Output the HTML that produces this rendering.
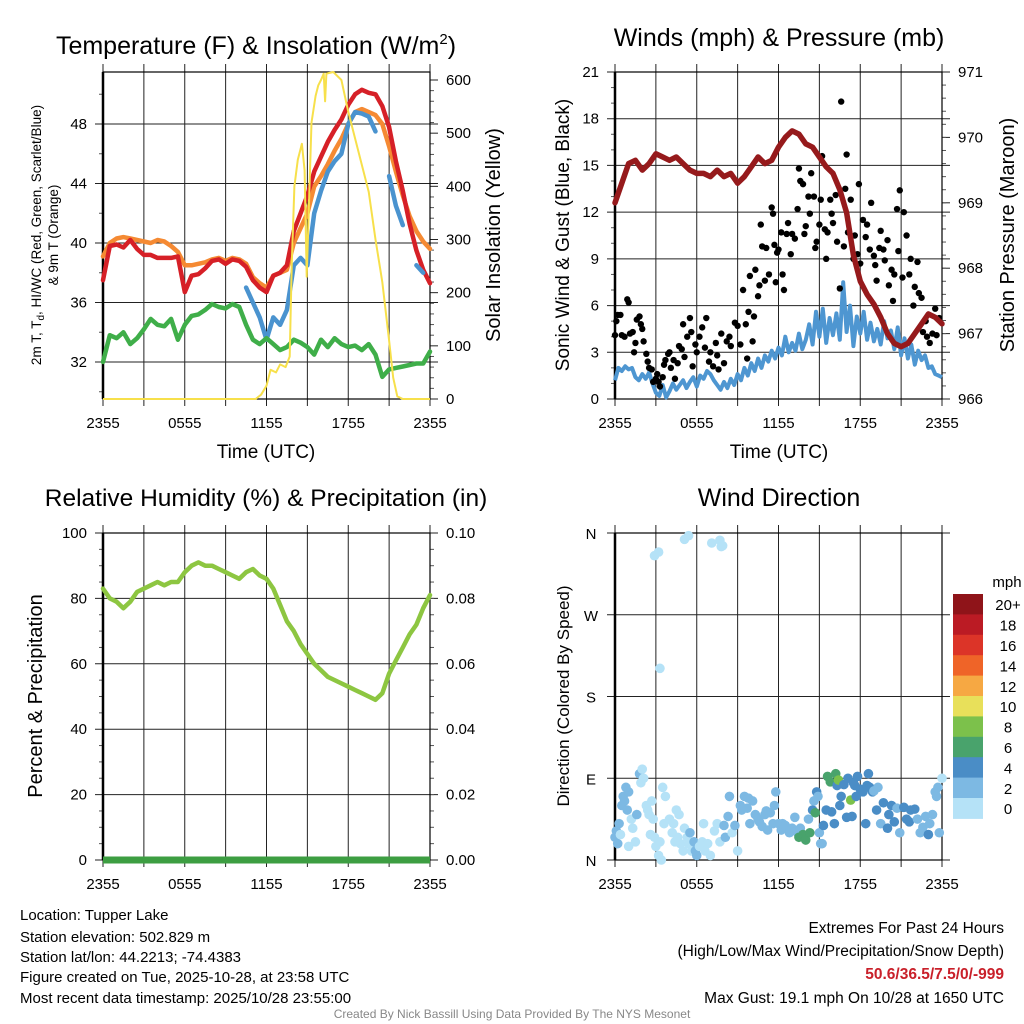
<!DOCTYPE html>
<html><head><meta charset="utf-8"><style>
html,body{margin:0;padding:0;background:#fff;}
svg{display:block;font-family:"Liberation Sans",Arial,sans-serif;}
</style></head><body>
<svg id="c" width="1024" height="1024" viewBox="0 0 1024 1024" xmlns="http://www.w3.org/2000/svg"></svg>
<script>
// ---------- DATA ----------
const halfHours = Array.from({length:49},(_,i)=>i*0.5);
const tempRed = [37.5,39.8,39.9,39.7,40.2,39.6,39.2,39.2,39.0,39.0,39.0,39.1,36.7,37.8,37.9,38.3,38.8,38.9,38.6,38.9,38.8,38.4,37.5,37.0,36.7,37.8,38.0,38.5,40.8,42.0,43.2,44.8,45.8,46.8,47.6,48.3,49.3,50.0,50.3,50.1,50.0,49.2,47.8,45.5,43.5,41.3,39.5,38.2,37.3];
const tempOrange = [39.1,40.0,40.3,40.4,40.3,40.2,40.1,40.0,40.2,40.1,39.8,39.4,38.5,38.5,38.6,38.7,38.9,39.0,38.8,39.0,38.9,38.6,37.7,37.3,37.0,37.8,38.0,38.2,40.0,41.0,42.0,43.8,44.5,45.3,46.2,47.0,48.0,48.8,49.0,48.8,48.6,48.0,46.5,44.8,43.2,41.8,40.8,40.1,39.6];
const dewGreen = [32.0,33.8,33.6,34.0,33.2,33.6,34.2,34.9,34.5,34.4,34.9,33.5,34.5,35.1,35.2,35.5,35.9,35.7,35.6,35.9,35.7,34.5,33.5,33.2,33.6,33.2,32.8,33.0,33.5,33.3,33.0,32.5,33.5,33.0,33.6,33.2,33.0,33.1,32.8,33.2,32.5,31.0,31.5,31.6,31.7,31.8,31.9,31.9,32.7];
const windChillBlue = [null,null,null,null,null,null,null,null,null,null,null,null,null,null,null,null,null,null,null,null,null,37.0,36.0,35.0,33.5,35.0,34.5,35.5,38.5,39.0,38.5,42.0,43.5,44.8,45.5,46.0,48.0,48.8,48.7,48.5,47.5,null,44.5,42.5,41.2,null,38.5,38.0,null];
const solarHours = [0,11.2,11.6,12.0,12.3,12.7,13.0,13.4,13.7,13.85,14.05,14.3,14.6,14.8,14.95,15.1,15.3,15.6,15.8,16.0,16.2,16.3,16.4,16.9,17.5,18.0,18.5,19.0,19.5,20.0,20.5,21.0,21.3,21.6,22.0,24];
const solarVals = [0,0,8,25,55,50,65,60,80,250,400,450,480,430,230,350,520,570,590,600,612,560,612,615,600,540,490,440,390,300,220,110,40,5,0,0];
const quarterHours = Array.from({length:97},(_,i)=>i*0.25);
const windSpeed = [1.2,2.0,1.8,2.1,1.9,2.0,1.4,1.2,1.6,1.3,1.7,1.0,
0.4,0.2,0.9,0.1,0.5,1.0,0.6,0.9,1.2,0.7,1.1,1.4,
0.8,1.5,1.3,1.8,1.6,1.2,0.9,0.6,1.1,0.7,1.3,0.9,
1.6,1.2,2.0,1.5,2.3,1.8,2.6,2.0,2.8,2.4,3.1,2.6,
3.3,2.8,4.0,3.0,3.6,3.1,4.2,3.2,3.8,4.8,3.5,5.6,
4.0,5.8,3.6,5.2,4.1,5.5,3.8,7.5,4.3,6.0,3.4,5.3,
4.2,5.6,3.8,4.9,3.7,4.5,3.5,5.0,3.9,4.4,3.2,4.6,
2.8,3.9,2.6,3.5,2.2,3.1,2.5,2.8,2.0,2.1,1.6,1.5,1.4];
const pressure = [969.0,969.3,969.6,969.65,969.5,969.6,969.75,969.7,969.65,969.7,969.6,969.5,969.45,969.45,969.4,969.5,969.4,969.45,969.3,969.4,969.55,969.7,969.6,969.65,969.85,970.0,970.1,970.05,969.9,969.85,969.7,969.55,969.45,969.2,968.85,968.2,967.8,967.6,967.45,967.25,967.0,966.85,966.8,966.85,967.0,967.15,967.3,967.25,967.15];
const gustHours = [0,0.1,0.2,0.4,0.5,0.7,0.9,1.0,1.1,1.3,1.4,1.5,1.6,1.8,1.9,2.0,2.1,2.3,2.4,2.5,2.7,2.8,3.0,3.1,3.2,3.3,3.5,3.6,3.7,3.9,4.0,4.1,4.3,4.4,4.6,4.7,4.9,5.0,5.1,5.3,5.5,5.6,5.7,5.9,6.0,6.2,6.4,6.6,6.7,6.9,7.0,7.2,7.4,7.5,7.6,7.8,8.0,8.2,8.4,8.5,8.8,9.0,9.2,9.4,9.6,9.7,9.8,9.9,10.1,10.2,10.3,10.5,10.6,10.7,10.8,11.0,11.1,11.3,11.5,11.6,11.7,11.8,11.9,12.0,12.2,12.3,12.4,12.6,12.7,12.9,13.0,13.2,13.4,13.5,13.6,13.8,13.9,14.0,14.2,14.3,14.4,14.6,14.7,14.8,15.0,15.1,15.2,15.4,15.5,15.6,15.8,15.9,16.0,16.2,16.3,16.5,16.6,16.8,16.9,17.0,17.1,17.3,17.5,17.6,17.8,17.9,18.0,18.2,18.4,18.5,18.7,18.8,19.0,19.1,19.2,19.4,19.5,19.7,19.8,20.0,20.1,20.3,20.4,20.5,20.7,20.8,20.9,21.1,21.2,21.4,21.6,21.7,21.9,22.0,22.2,22.3,22.5,22.6,22.8,22.9,23.1,23.3,23.5,23.6,23.8];
const gustVals = [4.1,5.0,5.4,5.4,4.1,4.0,6.4,6.2,4.2,4.3,3.0,3.6,5.1,5.3,4.8,4.5,3.7,2.9,2.4,2.0,1.9,1.1,1.3,1.6,1.1,0.8,1.4,2.2,2.5,2.9,3.0,2.0,2.5,1.3,2.3,3.4,3.2,4.8,2.7,4.0,5.2,4.3,2.1,3.5,3.0,4.0,4.6,3.3,5.2,2.4,3.0,2.1,3.6,2.8,1.9,4.2,2.3,3.7,4.0,3.4,4.9,4.7,3.5,7.0,4.8,2.6,5.6,7.9,3.7,5.3,8.3,6.6,7.3,11.2,9.8,7.6,9.7,8.0,12.3,11.9,9.9,7.5,9.4,9.6,10.7,8.0,7.0,10.6,11.3,9.3,10.6,10.3,12.2,14.8,14.0,13.8,10.6,11.1,13.0,11.9,14.5,13.0,9.7,10.1,11.2,12.8,15.6,10.9,9.0,10.7,12.8,11.9,11.3,13.1,10.1,7.1,19.1,9.8,13.5,15.7,10.7,12.8,9.0,10.5,9.3,13.8,8.7,11.5,10.4,11.2,9.6,12.6,9.2,8.6,7.6,9.7,10.8,9.6,8.9,10.2,7.3,8.3,6.3,8.0,12.2,9.5,13.4,7.8,12.0,10.5,8.0,9.0,6.0,7.2,8.8,6.8,6.5,4.3,5.0,4.0,3.6,4.2,5.8,4.1,5.2];
const rhVals = [83,80,79,77,79,82,83,84,85,84,85,85,88,90,91,90,90,89,88,87,86,88,89,87,86,83,78,73,70,66,63,60,58,56,55,54,53,52,51,50,49,51,57,61,65,69,72,77,81];
const precipVals = Array.from({length:49},()=>0);
const dirHours = [0,0.1,0.2,0.3,0.5,0.6,0.7,0.9,1.0,0.8,0.4,1.0,1.2,1.3,1.5,1.6,1.8,2.0,1.9,2.1,2.3,2.4,2.5,2.7,2.9,2.6,2.8,3.0,3.2,3.4,3.3,3.6,3.5,3.7,4.0,4.2,4.3,4.5,4.7,4.4,4.6,4.8,5.0,5.1,5.3,5.5,5.4,5.6,5.8,5.9,6.0,6.2,6.4,6.6,6.8,6.5,7.0,7.3,7.5,7.7,8.0,8.1,8.3,8.4,8.6,8.8,9.0,9.2,9.3,9.5,9.7,9.8,9.9,10.1,10.3,10.5,10.6,10.8,11.0,11.1,11.2,11.4,11.6,11.7,11.8,12.0,12.2,12.3,12.5,12.8,13.0,13.2,13.4,13.5,13.6,13.8,14.0,14.2,14.3,14.5,14.6,14.7,14.8,14.9,15.0,15.1,15.2,15.3,15.5,15.6,15.8,15.9,16.1,16.2,16.3,16.4,16.5,16.6,16.8,17.0,17.1,17.3,17.4,17.5,17.6,17.7,17.8,18.0,18.2,18.4,18.5,18.6,18.7,18.9,19.0,19.2,19.3,19.5,19.7,20.0,20.1,20.3,20.5,20.7,20.9,21.2,21.4,21.6,21.7,22.0,22.2,22.4,22.6,22.8,23.0,23.1,23.3,23.5,23.6,23.7,23.8,24.0,2.9,3.2,5.1,5.4,7.1,7.7,7.8,7.9,3.3];
const dirDeg = [25,32,18,40,60,70,65,55,75,80,28,15,45,35,20,50,95,100,85,90,60,55,50,65,25,28,45,15,5,0,20,40,80,70,45,30,40,55,50,20,25,18,10,35,25,30,18,10,20,10,5,15,20,10,18,40,5,32,40,20,38,25,48,70,30,38,10,60,55,70,57,68,40,65,50,45,42,37,50,54,33,52,40,60,75,40,33,40,38,30,35,47,30,25,35,28,22,45,30,55,65,52,75,70,30,18,18,38,55,92,86,53,40,95,82,88,60,70,83,47,90,66,48,85,82,70,92,78,75,40,82,95,80,75,76,55,80,40,63,35,50,60,42,57,30,58,45,42,55,56,45,30,36,48,28,40,50,75,70,80,30,90,335,339,353,357,349,352,345,346,211];
const dirSpd = [2,2,2,2,2,3,3,2,2,2,1,1,1,1,1,3,3,1,1,1,1,1,1,1,1,1,1,1,1,1,1,1,1,1,1,1,1,1,1,1,1,1,1,1,1,2,1,1,2,2,2,1,1,1,1,1,1,1,1,1,2,2,2,2,1,2,1,2,2,2,2,2,2,2,2,2,2,2,3,2,3,2,3,3,2,3,3,3,3,3,3,2,3,6,3,6,6,2,6,4,3,6,4,3,3,3,3,4,4,6,6,4,4,6,4,8,4,4,4,4,4,8,4,4,4,4,4,4,4,4,4,4,4,4,3,4,3,3,4,4,4,4,4,3,3,4,4,4,4,4,3,3,3,3,4,3,3,3,3,2,2,1,1,1,1,1,1,1,1,1,1];
const speedColors = ["#b5e2f7","#7db9e3","#4a8dc6","#49a36c","#7cc14b","#e8e05a","#f6a843","#ef6428","#dc3428","#bb1b24","#8f1419"];
const speedLabels = ["0","2","4","6","8","10","12","14","16","18","20+"];

// ---------- HELPERS ----------
const svg = document.getElementById('c');
const NS = 'http://www.w3.org/2000/svg';
function mk(tag, attrs, parent){
  const e = document.createElementNS(NS, tag);
  for (const k in attrs) e.setAttribute(k, attrs[k]);
  (parent||svg).appendChild(e);
  return e;
}
function txt(s, x, y, size, anchor, parent, extra){
  const t = mk('text', Object.assign({x:x, y:y, 'font-size':size, 'text-anchor':anchor||'middle', fill:'#000'}, extra||{}), parent);
  t.textContent = s;
  return t;
}
function lin(d0,d1,r0,r1){ return v => r0 + (v-d0)/(d1-d0)*(r1-r0); }
function pathFrom(xs, ys, fx, fy){
  let d = '', pen = false;
  for (let i=0;i<xs.length;i++){
    if (ys[i]===null || ys[i]===undefined){ pen=false; continue; }
    d += (pen?'L':'M') + fx(xs[i]).toFixed(1) + ' ' + fy(ys[i]).toFixed(1) + ' ';
    pen = true;
  }
  return d;
}
const xTicks = ["2355","0555","1155","1755","2355"];

function frame(g, P, name){
  const fx = lin(0,24,P.x0,P.x1);
  for (let h=0; h<=24; h+=3){
    const x = fx(h);
    const l = mk('line',{x1:x,x2:x,y1:P.y0-8,y2:P.y1+7,stroke:'#222','stroke-width':1},g);
    
    
  }
  xTicks.forEach((s,i)=>{
    const t = txt(s, fx(i*6), P.y1+29, 15, 'middle', g);
    
    
  });
  return fx;
}
function hgrid(g, P, y, name){
  const l = mk('line',{x1:P.x0-8,x2:P.x1+8,y1:y,y2:y,stroke:'#222','stroke-width':1},g);
  
  
}
function border(g,P){
  const r = mk('rect',{x:P.x0,y:P.y0,width:P.x1-P.x0,height:P.y1-P.y0,fill:'none',stroke:'#000','stroke-width':1.2},g);
  
  
  mk('line',{x1:P.x0,x2:P.x0,y1:P.y0,y2:P.y1,stroke:'#000','stroke-width':2.5},g);
}
function minor(g, x, y, dir, len){
  mk('line',{x1:x,x2:x+dir*len,y1:y,y2:y,stroke:'#555','stroke-width':1},g);
}

// ---------- PANEL 1 ----------
(function(){
  const P = {x0:103,x1:430,y0:72,y1:399};
  const g = mk('g',{});  
  const fx = frame(g,P,'temp');
  const fy = lin(32,48,362,124);
  const fs = lin(0,600,399,80);
  for (let t=32;t<=48;t+=4){ hgrid(g,P,fy(t),'temp-hgrid'); const l=txt(String(t),P.x0-16,fy(t)+5,15,'end',g);   }
  for (let t=30;t<=52;t+=2){ if (t%4) { if (fy(t)>P.y0 && fy(t)<P.y1) minor(g,P.x0,fy(t),-1,4);} }
  for (let s=0;s<=600;s+=100){ mk('line',{x1:P.x1,x2:P.x1+8,y1:fs(s),y2:fs(s),stroke:'#222'},g); const l=txt(String(s),P.x1+16,fs(s)+5,15,'start',g);   }
  for (let s=20;s<=620;s+=20){ if (s%100 && fs(s)>P.y0) minor(g,P.x1,fs(s),1,4); }
  border(g,P);
  const series = [[tempOrange,'#f58a33','orange-9m-temp'],[tempRed,'#d62027','red-2m-temp'],[windChillBlue,'#4a93cf','blue-heat-index-windchill'],[dewGreen,'#3fae49','green-dewpoint']];
  series.forEach(s=>{
    const p = mk('path',{d:pathFrom(halfHours,s[0],fx,fy),fill:'none',stroke:s[1],'stroke-width':4.5,'stroke-linejoin':'round','stroke-linecap':'round'},g);
    
    
  });
  const sp = mk('path',{d:pathFrom(solarHours,solarVals,fx,fs),fill:'none',stroke:'#f7e04b','stroke-width':2,'stroke-linejoin':'round'},g);
  
  
  const t = txt('Temperature (F) & Insolation (W/m',256,54,25,'middle',g);
  const sup = mk('tspan',{'font-size':15,dy:-10},t); sup.textContent='2';
  const cl = mk('tspan',{dy:10},t); cl.textContent=')';
   
  const xl = txt('Time (UTC)',266,458,19,'middle',g);  
  const y1 = txt('',0,0,13.5,'middle',g,{transform:'translate(41,235) rotate(-90)'});
  y1.innerHTML = '2m T, T<tspan font-size="10" dy="3">d</tspan><tspan dy="-3">, HI/WC (Red, Green, Scarlet/Blue)</tspan>';
   
  const y2 = txt('& 9m T (Orange)',0,0,13.5,'middle',g,{transform:'translate(58,235) rotate(-90)'});
   
  const yr = txt('Solar Insolation (Yellow)',0,0,20,'middle',g,{transform:'translate(500,235) rotate(-90)'});
   
})();

// ---------- PANEL 2 ----------
(function(){
  const P = {x0:615,x1:942,y0:72,y1:399};
  const g = mk('g',{});  
  const fx = frame(g,P,'wind');
  const fy = lin(0,21,399,72);
  const fp = lin(966,971,399,72);
  for (let w=0;w<=21;w+=3){ hgrid(g,P,fy(w),'wind-hgrid'); const l=txt(String(w),P.x0-16,fy(w)+5,15,'end',g);   }
  for (let w=1;w<21;w++){ if (w%3) minor(g,P.x0,fy(w),-1,4); }
  for (let p=966;p<=971;p++){ mk('line',{x1:P.x1,x2:P.x1+8,y1:fp(p),y2:fp(p),stroke:'#222'},g); const l=txt(String(p),P.x1+16,fp(p)+5,15,'start',g);   }
  for (let p=966.2;p<971;p+=0.2){ minor(g,P.x1,fp(p),1,4); }
  border(g,P);
  const wp = mk('path',{d:pathFrom(quarterHours,windSpeed,fx,fy),fill:'none',stroke:'#4e96d1','stroke-width':4,'stroke-linejoin':'round'},g);
  
  
  gustHours.forEach((h,i)=>{
    const c = mk('circle',{cx:fx(h),cy:fy(gustVals[i]),r:3.2,fill:'#000'},g);
    
    
  });
  const pp = mk('path',{d:pathFrom(halfHours,pressure,fx,fp),fill:'none',stroke:'#961a1c','stroke-width':5.5,'stroke-linejoin':'round','stroke-linecap':'round'},g);
  
  
  const t = txt('Winds (mph) & Pressure (mb)',779,46,25,'middle',g);  
  const xl = txt('Time (UTC)',779,458,19,'middle',g);  
  const yl = txt('Sonic Wind & Gust (Blue, Black)',0,0,19,'middle',g,{transform:'translate(569,235) rotate(-90)'});  
  const yr = txt('Station Pressure (Maroon)',0,0,20,'middle',g,{transform:'translate(1014,235) rotate(-90)'});  
})();

// ---------- PANEL 3 ----------
(function(){
  const P = {x0:103,x1:430,y0:533,y1:860};
  const g = mk('g',{});  
  const fx = frame(g,P,'rh');
  const fy = lin(0,100,860,533);
  const fr = lin(0,0.10,860,533);
  for (let v=0;v<=100;v+=20){ hgrid(g,P,fy(v),'rh-hgrid'); const l=txt(String(v),P.x0-16,fy(v)+5,15,'end',g);   }
  for (let v=5;v<100;v+=5){ if (v%20) minor(g,P.x0,fy(v),-1,4); }
  for (let i=0;i<=5;i++){ const v=i*0.02; const l=txt(v.toFixed(2),P.x1+16,fr(v)+5,15,'start',g);   }
  for (let v=0.005;v<0.1;v+=0.005){ minor(g,P.x1,fr(v),1,4); }
  border(g,P);
  const rp = mk('path',{d:pathFrom(halfHours,rhVals,fx,fy),fill:'none',stroke:'#8dc641','stroke-width':4.5,'stroke-linejoin':'round','stroke-linecap':'round'},g);
  
  
  const pr = mk('path',{d:pathFrom(halfHours,precipVals,fx,fr),fill:'none',stroke:'#3d9e42','stroke-width':7},g);
  
  
  const t = txt('Relative Humidity (%) & Precipitation (in)',266,506,24.5,'middle',g);  
  const yl = txt('Percent & Precipitation',0,0,20,'middle',g,{transform:'translate(42,696) rotate(-90)'});  
})();

// ---------- PANEL 4 ----------
(function(){
  const P = {x0:615,x1:942,y0:533,y1:860};
  const g = mk('g',{});  
  const fx = frame(g,P,'dir');
  const fy = lin(0,360,860,533);
  ['N','E','S','W','N'].forEach((s,i)=>{ hgrid(g,P,fy(i*90),'dir-hgrid'); const l=txt(s,591,fy(i*90)+6,15,'middle',g);   });
  border(g,P);
  dirHours.forEach((h,i)=>{
    const c = mk('circle',{cx:fx(h),cy:fy(dirDeg[i]),r:4.8,fill:speedColors[Math.min(10,Math.floor(dirSpd[i]/2))]},g);
    
    
  });
  const t = txt('Wind Direction',779,506,25,'middle',g);  
  const yl = txt('Direction (Colored By Speed)',0,0,17,'middle',g,{transform:'translate(569,696) rotate(-90)'});  
  const cb = mk('g',{},g);  
  const top=594, bh=20.4;
  for (let i=0;i<11;i++){
    const k = 10-i;
    const r = mk('rect',{x:953,y:top+i*bh,width:30,height:bh+0.5,fill:speedColors[k]},cb);
    
    
    const l = txt(speedLabels[k],1008,top+i*bh+bh/2+6,15,'middle',cb);
    
    
  }
  const u = txt('mph',1007,587,15,'middle',cb);  
})();

// ---------- FOOTER ----------
(function(){
  const g = mk('g',{});  
  const left = ['Location: Tupper Lake','Station elevation: 502.829 m','Station lat/lon: 44.2213; -74.4383','Figure created on Tue, 2025-10-28, at 23:58 UTC','Most recent data timestamp: 2025/10/28 23:55:00'];
  const ly = [920,942,962,982,1003];
  left.forEach((s,i)=>{ const t=txt(s,20,ly[i],15,'start',g);   });
  const a = txt('Extremes For Past 24 Hours',1004,933,15.5,'end',g);  
  const b = txt('(High/Low/Max Wind/Precipitation/Snow Depth)',1004,956,15.5,'end',g);  
  const c = txt('50.6/36.5/7.5/0/-999',1004,979,15.5,'end',g,{fill:'#c9202a','font-weight':'bold'});  
  const d = txt('Max Gust: 19.1 mph On 10/28 at 1650 UTC',1004,1003,15.5,'end',g);  
  const e = txt('Created By Nick Bassill Using Data Provided By The NYS Mesonet',512,1018,12,'middle',g,{fill:'#888'});  
})();
</script>
</body></html>
